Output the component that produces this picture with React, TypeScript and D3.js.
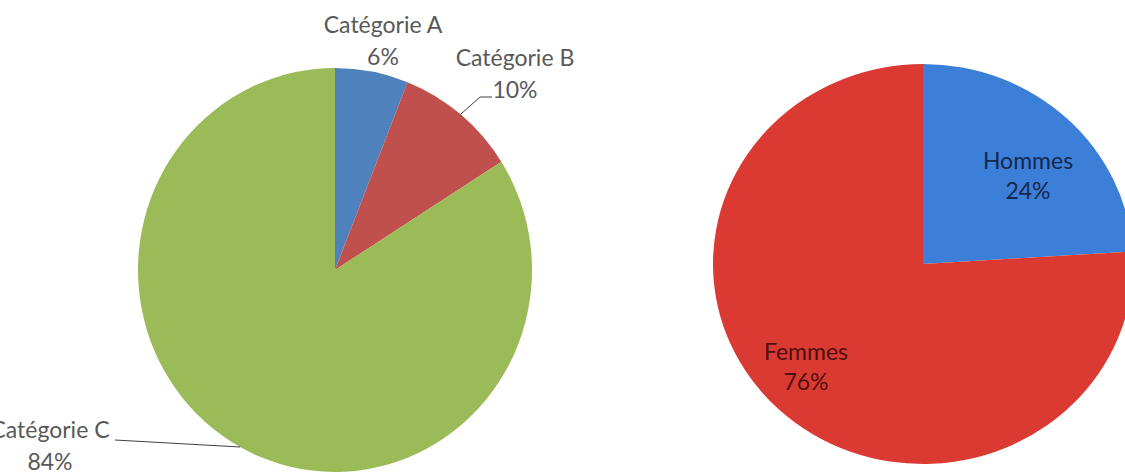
import React from 'react';
import * as d3 from 'd3';

const leftCategories = ['Catégorie A', 'Catégorie B', 'Catégorie C'];
const leftValues = [6, 10, 84];
const leftColors = ['#4f81bd', '#c0504d', '#9bbb59'];

const rightCategories = ['Hommes', 'Femmes'];
const rightValues = [24, 76];
const rightColors = ['#3c7fd9', '#da3a32'];
const rightTextColors = ['#14284a', '#4e0e0e'];

// label layout (offset of first line baseline from pie centre)
const leftLabelOffsets: [number, number][] = [[48, -237], [180, -204], [-285, 168]];
const rightLabelOffsets: [number, number][] = [[105, -95], [-117, 96]];
// leader line style per label: none, elbow (to upper right), straight (to text end)
const leftLeaders = ['none', 'elbow', 'straight'];
const rightLeaders = ['none', 'none'];

const W = 1125;
const H = 474;
const FONT = 'Lato, "Open Sans", sans-serif';
const FS = 23;

type PieProps = {
  cx: number; cy: number; rx: number; ry: number;
  cats: string[]; vals: number[]; colors: string[];
  textColors: string[]; offsets: [number, number][]; gap: number;
  leaders: string[];
};

function Pie({ cx, cy, rx, ry, cats, vals, colors, textColors, offsets, gap, leaders }: PieProps) {
  const pie = d3.pie<number>().sort(null).value((d) => d);
  const arcs = pie(vals);
  const r = ry;
  const arc = d3.arc<d3.PieArcDatum<number>>().innerRadius(0).outerRadius(r);
  const total = d3.sum(vals);
  const fmt = (v: number) => `${Math.round((v / total) * 100)}%`;
  return (
    <g>
      <g transform={`translate(${cx},${cy}) scale(${rx / r},1)`}>
        {arcs.map((a, i) => (
          <path key={i} d={arc(a) || ''} fill={colors[i]} />
        ))}
      </g>
      {arcs.map((a, i) => {
        const [dx, dy] = offsets[i];
        const lx = cx + dx;
        const ly = cy + dy;
        const mid = (a.startAngle + a.endAngle) / 2;
        const ex = cx + rx * Math.sin(mid);
        const ey = cy - ry * Math.cos(mid);
        let leader = null;
        if (leaders[i] === 'elbow') {
          const ly2 = ly + gap - 1;
          leader = (
            <polyline
              points={`${ex},${ey} ${lx - 35},${ly2} ${lx - 23},${ly2}`}
              fill="none" stroke="#404040" strokeWidth={1} />
          );
        } else if (leaders[i] === 'straight') {
          leader = (
            <line x1={ex} y1={ey} x2={lx + 65} y2={ly + 2}
              stroke="#404040" strokeWidth={1} />
          );
        }
        return (
          <g key={'l' + i}>
            {leader}
            <text x={lx} y={ly} textAnchor="middle" fontFamily={FONT} fontSize={FS}
              fill={textColors[i]}>{cats[i]}</text>
            <text x={lx} y={ly + gap} textAnchor="middle" fontFamily={FONT} fontSize={FS}
              fill={textColors[i]}>{fmt(vals[i])}</text>
          </g>
        );
      })}
    </g>
  );
}

export default function App() {
  return (
    <svg width={W} height={H} style={{ position: 'absolute', left: 0, top: 0, background: '#fff' }}>
      <rect x={0} y={0} width={W} height={H} fill="#fff" />
      <Pie cx={335} cy={270} rx={197} ry={202}
        cats={leftCategories} vals={leftValues} colors={leftColors}
        textColors={['#595959', '#595959', '#595959']}
        offsets={leftLabelOffsets} gap={32} leaders={leftLeaders} />
      <Pie cx={923} cy={264} rx={210} ry={200}
        cats={rightCategories} vals={rightValues} colors={rightColors}
        textColors={rightTextColors}
        offsets={rightLabelOffsets} gap={30} leaders={rightLeaders} />
    </svg>
  );
}
